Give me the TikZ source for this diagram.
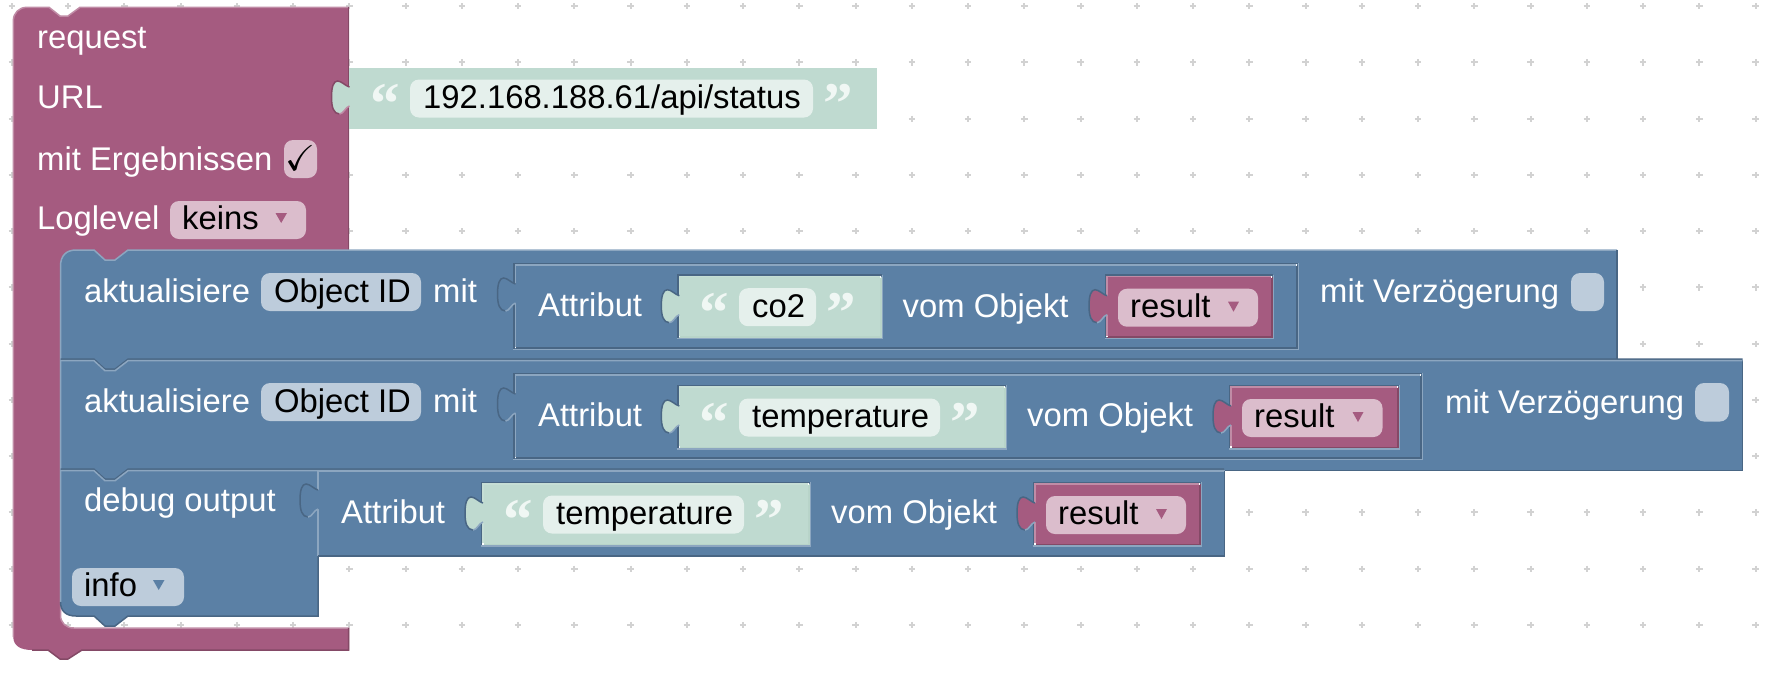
\documentclass[tikz,border=0pt]{standalone}
\usepackage{amssymb}
\usepackage{fontspec}
\setmainfont{Liberation Sans}
\newfontfamily\quotefont{Liberation Serif}[BoldFont={Liberation Serif Bold}]

\definecolor{plum}{HTML}{A55B80}
\definecolor{plumlt}{HTML}{C08CA6}
\definecolor{plumdk}{HTML}{844966}
\definecolor{plumfield}{HTML}{DBBDCC}
\definecolor{steel}{HTML}{5B80A5}
\definecolor{steellt}{HTML}{8CA6C0}
\definecolor{steeldk}{HTML}{496684}
\definecolor{steelfield}{HTML}{BDCCDB}
\definecolor{mint}{HTML}{BFDAD0}
\definecolor{mintlt}{HTML}{C6DED5}
\definecolor{mintdk}{HTML}{B8D4C9}
\definecolor{mintfield}{HTML}{E5F0EC}
\definecolor{quotewhite}{HTML}{F0F7F4}
\definecolor{gridgray}{HTML}{D2D2D2}

\tikzset{
  lbl/.style={anchor=base west, inner sep=0pt, text=white, font=\fontsize{32.8}{38}\selectfont},
  fieldtxt/.style={anchor=base west, inner sep=0pt, text=black, font=\fontsize{32.8}{38}\selectfont},
  quotemark/.style={anchor=base west, inner sep=0pt, text=quotewhite, font=\fontsize{59}{60}\quotefont\bfseries},
  edge/.style={line width=1.5pt, line cap=butt},
  fieldbox/.style={rounded corners=9pt},
  gridplus/.style={gridgray, line width=2pt}
}

% tab on the left side: x, y, colour, parent colour
\newcommand{\puztab}[4]{
\fill[#3, shift={(#1,#2)}] (2,0) -- (0,0) .. controls (-4,-1) and (-8,-6) .. (-12,-6) .. controls (-16,-6) and (-18,0) .. (-18,10)
  .. controls (-18,20) and (-16,27) .. (-10,27) .. controls (-6,27) and (-4,20) .. (0,19) -- (2,19) -- cycle;
\draw[#4dk, edge, shift={(#1,#2)}] (0,0) .. controls (-4,-1) and (-8,-6) .. (-12,-6) .. controls (-16,-6) and (-18,0) .. (-18,10)
  .. controls (-18,20) and (-16,27) .. (-10,27);
\draw[#4lt, edge, shift={(#1,#2)}] (-10,27) .. controls (-6,27) and (-4,20) .. (0,19);
}
% x1, y1, x2, y2, colour
\newcommand{\plainblock}[5]{
\fill[#5] (#1,#2) rectangle (#3,#4);
\draw[#5lt, edge] (#1,#4) -- (#1,#2) -- (#3,#2);
\draw[#5dk, edge] (#3,#2) -- (#3,#4) -- (#1,#4);
}
% the same in a hole of the parent colour #6
\newcommand{\valblock}[6]{
\draw[#6dk, edge] ({#1-1.5},{#4+.7}) -- ({#1-1.5},{#2-1.5}) -- ({#3+.7},{#2-1.5});
\draw[#6lt, edge] ({#3+1.5},{#2-2.2}) -- ({#3+1.5},{#4+1.5}) -- ({#1-2.2},{#4+1.5});
\plainblock{#1}{#2}{#3}{#4}{#5}
\fill[white] ({#1-.7},{#4-1.4}) rectangle +(1.5,1.5);
\fill[white] ({#3-1.4},{#2-.7}) rectangle +(1.5,1.5);
}
% seam between two stacked blocks: y, right end
\newcommand{\seam}[2]{
\draw[steeldk, edge] (60.5,{#1-1.5}) -- (94,{#1-1.5}) -- (105,{#1+8.5}) -- (115,{#1+8.5}) -- (128,{#1-1.5}) -- (#2,{#1-1.5});
\draw[steellt, edge] (60.5,#1) -- (94,#1) -- (105,{#1+10}) -- (115,{#1+10}) -- (128,#1) -- (#2,#1);
}

\begin{document}
\begin{tikzpicture}[x=1pt, y=-1pt]
\useasboundingbox (0,0) rectangle (1769,673);

% grid
\foreach \x in {0,...,31}
\foreach \y in {0,...,11} {
\draw[gridplus] ({11.8+56.25*\x-3.2},{6.2+56.25*\y}) -- +(6.4,0);
\draw[gridplus] ({11.8+56.25*\x},{6.2+56.25*\y-3.2}) -- +(0,6.4);
}

% request block
\fill[plum] (13.3,21) .. controls (13.3,13) and (19,7.3) .. (27,7.3) -- (49,7.3) -- (60,16) -- (68,16) -- (80,7.3)
  -- (349,7.3) -- (349,290) -- (60.5,290) -- (60.5,615) .. controls (60.5,623) and (66,628) .. (74,628)
  -- (349,628) -- (349,650) -- (82,650) -- (68,659) -- (60,659) -- (48,650) -- (32,650)
  .. controls (21,650) and (13.3,646) .. (13.3,637) -- cycle;
\draw[plumlt, edge] (13.3,637) -- (13.3,21) .. controls (13.3,13) and (19,7.3) .. (27,7.3) -- (49,7.3) -- (60,16) -- (68,16) -- (80,7.3) -- (349,7.3);
\draw[plumdk, edge] (348.5,7.3) -- (348.5,250);
\draw[plumlt, edge] (60.5,290) -- (60.5,615) .. controls (60.5,623) and (66,628) .. (74,628) -- (349,628);
\draw[plumdk, edge] (348.5,628) -- (348.5,650) -- (82,650) -- (68,659) -- (60,659) -- (48,650) -- (32,650);

\node[lbl] (request) at (37,48) {request};
\node[lbl] (url) at (37,108) {URL};
\node[lbl] (results) at (37,170) {mit Ergebnissen};
\node[lbl] (loglevel) at (37,229) {Loglevel};

\fill[plumfield, fieldbox] (284,140) rectangle (317,178);
\node[inner sep=0pt, text=black, font=\fontsize{36}{40}\selectfont] (resultscheck) at (300.5,158) {$\checkmark$};
\fill[plumfield, fieldbox] (170,201) rectangle (306,239);
\node[fieldtxt] (levelnone) at (182,229) {keins};
\fill[plum] (275.5,213) -- (287,213) -- (281.2,223) -- cycle;

% blue statement blocks
\fill[steel] (60.5,266) .. controls (60.5,256) and (66,250) .. (76,250) -- (94,250) -- (105,260) -- (115,260) -- (128,250)
  -- (1617,250) -- (1617,360) -- (1742.5,360) -- (1742.5,470.7) -- (318,470.7) -- (318,616) -- (128,616)
  -- (115,626) -- (105,626) -- (94,616) -- (76,616) .. controls (66,616) and (60.5,611) .. (60.5,602) -- cycle;
\draw[steellt, edge] (60.5,602) -- (60.5,266) .. controls (60.5,256) and (66,250) .. (76,250) -- (94,250) -- (105,260) -- (115,260) -- (128,250) -- (1617,250);
\draw[steeldk, edge] (1617,250) -- (1617,360);
\draw[steeldk, edge] (1742.5,360) -- (1742.5,470.7) -- (1224,470.7);
\draw[steeldk, edge] (318,471) -- (318,616) -- (128,616) -- (115,626) -- (105,626) -- (94,616) -- (76,616) .. controls (66,616) and (60.5,611) .. (60.5,602);
\seam{360.7}{1742.5}
\seam{470.7}{1224}

\foreach \nm/\yb in {setone/302.7, settwo/412.7} {
\node[lbl] (\nm text) at (84,\yb) {aktualisiere};
\fill[steelfield, fieldbox] (261,\yb-29.7) rectangle (421,\yb+8.3);
\node[fieldtxt] (\nm id) at (274,\yb) {Object ID};
\node[lbl] (\nm mit) at (433,\yb) {mit};
}
\node[lbl] (delayone) at (1320,302) {mit Verzögerung};
\fill[steelfield, fieldbox] (1571,273) rectangle (1604,311);
\node[lbl] (delaytwo) at (1445,413) {mit Verzögerung};
\fill[steelfield, fieldbox] (1695,383) rectangle (1729,421.5);

\node[lbl] (debug) at (84,511) {debug output};
\fill[steelfield, fieldbox] (72,568) rectangle (184,606);
\node[fieldtxt] (levelinfo) at (84,596) {info};
\fill[steel] (153,580) -- (164.5,580) -- (158.7,590) -- cycle;

% attribute blocks
\valblock{515.5}{265}{1297}{348}{steel}{steel}
\puztab{515.5}{284}{steel}{steel}
\valblock{515.5}{375}{1421}{458}{steel}{steel}
\puztab{515.5}{394}{steel}{steel}
\plainblock{318}{471}{1224.7}{556}{steel}
\puztab{318}{490}{steel}{steel}
\node[lbl] (attrone) at (538,316) {Attribut};
\node[lbl] (attrtwo) at (538,426.5) {Attribut};
\node[lbl] (attrthree) at (341,523) {Attribut};
\node[lbl] (ofone) at (902.5,317) {vom Objekt};
\node[lbl] (oftwo) at (1027,426.5) {vom Objekt};
\node[lbl] (ofthree) at (831,523.7) {vom Objekt};

% string blocks
\fill[mint] (349,68) rectangle (877,129);
\puztab{349.5}{87}{mint}{plum}
\foreach \nm/\xl/\yt/\xr in {strone/679.3/276.7/881, strtwo/679.3/387/1005, strthree/483/484/809} {
\valblock{\xl}{\yt}{\xr}{\yt+60.5}{mint}{steel}
\puztab{\xl}{\yt+19}{mint}{steel}
}
\foreach \nm/\xl/\yt/\fr/\txt in {strurl/350/68/813/{192.168.188.61/api/status}, strone/679/276.7/816/co2, strtwo/679/387/940/temperature, strthree/483/484/744/temperature} {
\fill[mintfield, fieldbox] (\xl+60,\yt+11.5) rectangle (\fr,\yt+49.5);
\node[fieldtxt] (\nm text) at (\xl+73,\yt+40.3) {\txt};
\node[quotemark] (\nm open) at (\xl+20,\yt+55.6) {“};
\node[quotemark] (\nm close) at (\fr+10,\yt+55.6) {”};
}

% result blocks
\foreach \nm/\xl/\yt/\xr/\fr in {resone/1107/276.7/1272/1258, restwo/1231/387/1398/1382.5, resthree/1035/484/1200/1186} {
\valblock{\xl}{\yt}{\xr}{\yt+60.5}{plum}{steel}
\puztab{\xl}{\yt+19}{plum}{steel}
\fill[plumfield, fieldbox] (\xl+11,\yt+12) rectangle (\fr,\yt+50);
\node[fieldtxt] (\nm) at (\xl+23,\yt+40.3) {result};
\fill[plum] (\fr-30,\yt+25) -- (\fr-19,\yt+25) -- (\fr-24.5,\yt+35) -- cycle;
}
\end{tikzpicture}
\end{document}
